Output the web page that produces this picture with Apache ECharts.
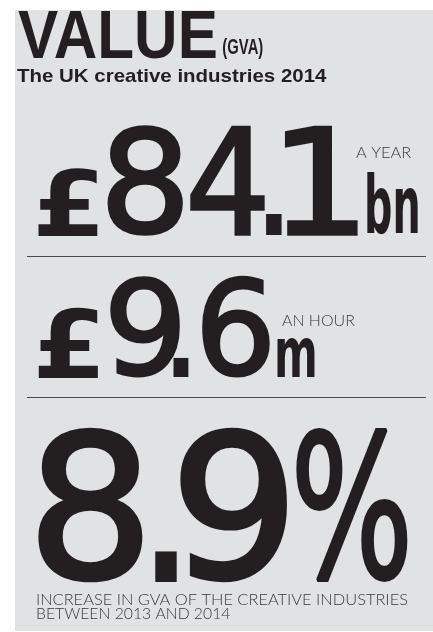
<!DOCTYPE html>
<html>
<head>
<meta charset="utf-8">
<script src="https://cdn.jsdelivr.net/npm/echarts@6/dist/echarts.min.js"></script>
<style>
  html, body { margin: 0; padding: 0; background: #fff; }
  #main { width: 433px; height: 632px; }
</style>
</head>
<body>
<div id="main"></div>
<script>
// data
const titleWords = ['VALUE', '(GVA)'];
const subtitle = ['The UK creative industries 2014'];
const figures = [84.1, 9.6, 8.9];
const prefixes = ['£', '£', ''];
const units = ['bn', 'm', '%'];
const notes = ['A YEAR', 'AN HOUR', 'INCREASE IN GVA OF THE CREATIVE INDUSTRIES\nBETWEEN 2013 AND 2014'];

// ink boxes [left, top, right, bottom]
const titleBoxes = [[18, 11, 216, 59], [223, 38, 263, 59]];
const subtitleBox = [17, 69, 327, 83];
const rowBoxes = [
  {
    pre: [38, 168, 98, 235],
    digits: [[107, 125, 183, 235], [190, 125, 265, 235], [266, 213, 282, 235], [285, 125, 358, 235]],
    unit: [367, 172, 418, 235],
    note: [[356, 147, 412, 158]]
  },
  {
    pre: [38, 307, 98, 377],
    digits: [[110, 275, 180, 377], [173, 357, 189, 377], [202, 275, 270, 377]],
    unit: [277, 338, 315, 377],
    note: [[282, 315, 355, 327]]
  },
  {
    pre: null,
    digits: [[38, 428, 143, 583], [155, 551, 177, 583], [180, 428, 287, 583]],
    unit: [295, 428, 408, 583],
    note: [[37, 594, 408, 605], [37, 608, 230, 620]]
  }
];
const ruleYs = [256.5, 397.5];

const INK = '#231f20';
const ctx = document.createElement('canvas').getContext('2d');

function measure(text, weight, family, size) {
  ctx.font = weight + ' ' + size + 'px ' + family;
  ctx.textBaseline = 'middle';
  ctx.textAlign = 'left';
  return ctx.measureText(text);
}

// put a text so its ink fills the box (height sets the size, width sets scaleX)
// lw > 0 thickens the glyph with an outline of the same colour
function inkText(text, box, weight, family, color, lw) {
  lw = lw || 0;
  const l = box[0] + lw / 2, t = box[1] + lw / 2, r = box[2] - lw / 2, b = box[3] - lw / 2;
  let m = measure(text, weight, family, 100);
  const size = 100 * (b - t) / (m.actualBoundingBoxAscent + m.actualBoundingBoxDescent);
  m = measure(text, weight, family, size);
  const sx = (r - l) / (m.actualBoundingBoxLeft + m.actualBoundingBoxRight);
  const style = {
    text: text,
    font: weight + ' ' + size + 'px ' + family,
    fill: color,
    textAlign: 'left',
    textVerticalAlign: 'middle',
    verticalAlign: 'middle'
  };
  if (lw) {
    style.stroke = color;
    style.lineWidth = lw;
    style.lineJoin = 'round';
  }
  return {
    type: 'text',
    x: l + sx * m.actualBoundingBoxLeft,
    y: t + m.actualBoundingBoxAscent,
    scaleX: sx,
    style: style
  };
}

const elements = [];
elements.push({ type: 'rect', shape: { x: 15, y: 10, width: 418, height: 621 }, style: { fill: '#e1e2e4' } });

titleWords.forEach((w, i) => {
  elements.push(inkText(w, titleBoxes[i], 'bold', '"Liberation Sans", Arial, sans-serif', INK));
});
elements.push(inkText(subtitle[0], subtitleBox, 'bold', '"Liberation Sans", Arial, sans-serif', INK));

figures.forEach((v, i) => {
  const b = rowBoxes[i];
  const h = b.unit[3] - b.digits[0][1];
  if (prefixes[i]) elements.push(inkText(prefixes[i], b.pre, 'bold', '"DejaVu Sans", sans-serif', INK));
  // each glyph of the figure sits in its own box
  v.toFixed(1).split('').forEach((ch, j) => {
    elements.push(inkText(ch, b.digits[j], 'normal', '"DejaVu Sans", sans-serif', INK, ch === '.' ? 0 : h * 0.03));
  });
  if (i === 2) {
    elements.push(inkText(units[i], b.unit, 'normal', '"DejaVu Sans", sans-serif', INK, h * 0.025));
  } else {
    elements.push(inkText(units[i], b.unit, 'bold', '"DejaVu Sans", sans-serif', INK));
  }
  notes[i].split('\n').forEach((line, j) => {
    elements.push(inkText(line, b.note[j], '300', 'Lato, sans-serif', '#3a3a3a'));
  });
});

ruleYs.forEach((y) => {
  elements.push({ type: 'line', shape: { x1: 27, y1: y, x2: 426, y2: y }, style: { stroke: '#4a4a4a', lineWidth: 1 } });
});

const chart = echarts.init(document.getElementById('main'));
chart.setOption({
  backgroundColor: '#fff',
  animation: false,
  graphic: { elements: elements }
});
</script>
</body>
</html>
